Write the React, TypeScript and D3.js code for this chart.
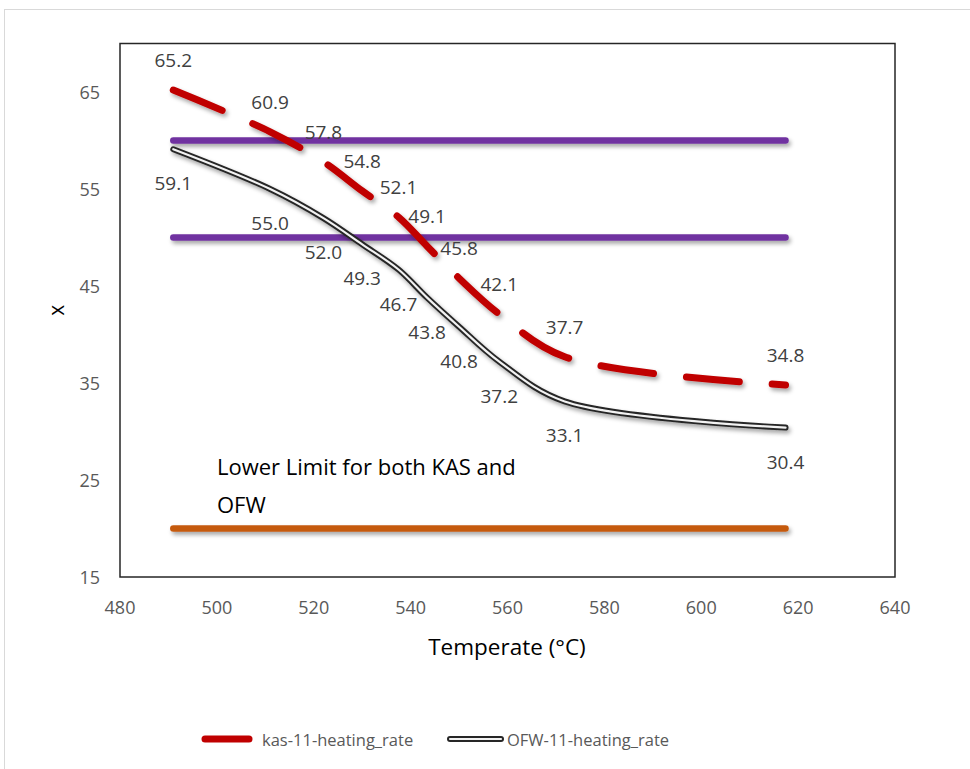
import React from "react";
import * as d3 from "d3";

const temps = [491, 511, 522, 530, 537.5, 543.4, 550, 558.3, 571.8, 617.4];
const kasValues = [65.2, 60.9, 57.8, 54.8, 52.1, 49.1, 45.8, 42.1, 37.7, 34.8];
const ofwValues = [59.1, 55.0, 52.0, 49.3, 46.7, 43.8, 40.8, 37.2, 33.1, 30.4];
const upperLimits = [60, 50];
const lowerLimit = 20;
const limitRange = [491, 617.4];
const xTicks = [480, 500, 520, 540, 560, 580, 600, 620, 640];
const yTicks = [15, 25, 35, 45, 55, 65];
const seriesNames = ["kas-11-heating_rate", "OFW-11-heating_rate"];

const W = 970;
const H = 769;
const FONT = "'Open Sans', 'Noto Sans', sans-serif";

export default function App() {
  const x = d3.scaleLinear().domain([480, 640]).range([120, 895]);
  const y = d3.scaleLinear().domain([15, 70]).range([577, 43.5]);

  const line = d3
    .line<[number, number]>()
    .x((d) => x(d[0]))
    .y((d) => y(d[1]))
    .curve(d3.curveCatmullRom.alpha(0.5));

  const kasPts: [number, number][] = temps.map((t, i) => [t, kasValues[i]]);
  const ofwPts: [number, number][] = temps.map((t, i) => [t, ofwValues[i]]);

  return (
    <svg
      width={W}
      height={H}
      style={{ position: "absolute", left: 0, top: 0, background: "#fff" }}
    >
      <defs>
        <filter id="sh" filterUnits="userSpaceOnUse" x={0} y={0} width={W} height={H}>
          <feDropShadow dx="2" dy="3" stdDeviation="2" floodColor="#000" floodOpacity="0.35" />
        </filter>
      </defs>
      <rect x={4.5} y={9.5} width={W} height={H} fill="#fff" stroke="#d9d9d9" strokeWidth={1} />
      {/* plot area */}
      <rect
        x={x(480)}
        y={y(70)}
        width={x(640) - x(480)}
        height={y(15) - y(70)}
        fill="#fff"
        stroke="#262626"
        strokeWidth={1.5}
      />
      {/* y ticks */}
      {yTicks.map((t) => (
        <text
          key={"y" + t}
          x={100}
          y={y(t)}
          textAnchor="end"
          dominantBaseline="central"
          fontFamily={FONT}
          fontSize={18}
          fill="#595959"
        >
          {t}
        </text>
      ))}
      {xTicks.map((t) => (
        <text
          key={"x" + t}
          x={x(t)}
          y={607}
          textAnchor="middle"
          dominantBaseline="central"
          fontFamily={FONT}
          fontSize={18}
          fill="#595959"
        >
          {t}
        </text>
      ))}
      <text
        x={507}
        y={646}
        textAnchor="middle"
        dominantBaseline="central"
        fontFamily={FONT}
        fontSize={22.5}
        fill="#000"
      >
        Temperate (°C)
      </text>
      <text
        transform={`translate(56,${y(42.5)}) rotate(-90)`}
        textAnchor="middle"
        dominantBaseline="central"
        fontFamily={FONT}
        fontSize={21}
        fill="#000"
      >
        x
      </text>
      {/* limit lines */}
      {upperLimits.map((v) => (
        <line
          key={"u" + v}
          x1={x(limitRange[0])}
          x2={x(limitRange[1])}
          y1={y(v)}
          y2={y(v)}
          stroke="#7030A0"
          strokeWidth={6.5}
          strokeLinecap="round"
          filter="url(#sh)"
        />
      ))}
      <line
        x1={x(limitRange[0])}
        x2={x(limitRange[1])}
        y1={y(lowerLimit)}
        y2={y(lowerLimit)}
        stroke="#C55A11"
        strokeWidth={6.5}
        strokeLinecap="round"
        filter="url(#sh)"
      />
      {/* OFW double line */}
      <g filter="url(#sh)">
        <path d={line(ofwPts) || ""} fill="none" stroke="#262626" strokeWidth={6} strokeLinecap="round" strokeLinejoin="round" />
        <path d={line(ofwPts) || ""} fill="none" stroke="#f2f2f2" strokeWidth={2.2} strokeLinecap="round" strokeLinejoin="round" />
      </g>
      {/* KAS dashed */}
      <path
        d={line(kasPts) || ""}
        fill="none"
        stroke="#C00000"
        strokeWidth={7}
        strokeLinecap="round"
        strokeDasharray="53 33"
        filter="url(#sh)"
      />
      {/* data labels */}
      {kasPts.map((p, i) => (
        <text
          key={"kl" + i}
          x={x(p[0])}
          y={y(p[1]) - 30}
          textAnchor="middle"
          dominantBaseline="central"
          fontFamily={FONT}
          fontSize={19}
          fill="#404040"
        >
          {kasValues[i].toFixed(1)}
        </text>
      ))}
      {ofwPts.map((p, i) => (
        <text
          key={"ol" + i}
          x={x(p[0])}
          y={y(p[1]) + 34}
          textAnchor="middle"
          dominantBaseline="central"
          fontFamily={FONT}
          fontSize={19}
          fill="#404040"
        >
          {ofwValues[i].toFixed(1)}
        </text>
      ))}
      <text fontFamily={FONT} fontSize={22} fill="#000">
        <tspan x={217} y={475}>Lower Limit for both KAS and</tspan>
        <tspan x={217} y={513}>OFW</tspan>
      </text>
      {/* legend */}
      <line x1={205} x2={249} y1={739} y2={739} stroke="#C00000" strokeWidth={7} strokeLinecap="round" />
      <text x={262} y={739} dominantBaseline="central" fontFamily={FONT} fontSize={16.5} fill="#595959">
        {seriesNames[0]}
      </text>
      <line x1={450} x2={501} y1={739} y2={739} stroke="#262626" strokeWidth={6} strokeLinecap="round" />
      <line x1={450} x2={501} y1={739} y2={739} stroke="#f2f2f2" strokeWidth={2.2} strokeLinecap="round" />
      <text x={507} y={739} dominantBaseline="central" fontFamily={FONT} fontSize={16.5} fill="#595959">
        {seriesNames[1]}
      </text>
    </svg>
  );
}
